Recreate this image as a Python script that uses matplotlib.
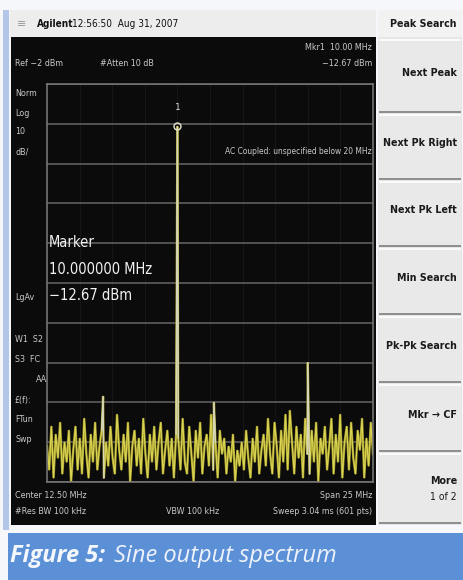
import numpy as np
import matplotlib
matplotlib.use("Agg")
import matplotlib.pyplot as plt
from matplotlib.patches import Rectangle

W, H = 464, 580

# Sweep settings
start_mhz = 0.0
stop_mhz = 25.0
ref_dbm = -2.0
db_per_div = 10.0
n_div = 10

# Noise floor readings across the sweep (dBm)
noise_dbm = [
    -93, -99, -88, -101, -90, -96, -87, -100, -92, -97,
    -89, -102, -94, -88, -99, -91, -100, -86, -95, -101,
    -90, -97, -87, -99, -93, -89, -101, -92, -98, -88,
    -96, -100, -85, -94, -99, -90, -97, -87, -102, -93,
    -89, -98, -91, -100, -86, -95, -101, -90, -97, -88,
    -99, -92, -87, -100, -94, -89, -98, -91, -101, -90,
    -91, -99, -86, -97, -100, -88, -95, -102, -89, -96,
    -87, -100, -93, -90, -98, -85, -99, -92, -101, -89,
    -95, -91, -100, -93, -97, -90, -102, -94, -98, -92,
    -99, -89, -96, -101, -91, -97, -88, -100, -94, -90,
    -98, -86, -95, -100, -87, -93, -101, -89, -97, -85,
    -99, -84, -92, -100, -88, -96, -90, -101, -86, -95,
    -100, -89, -97, -87, -102, -91, -95, -88, -99, -93,
    -86, -100, -90, -97, -85, -101, -92, -88, -99, -87,
    -96, -100, -89, -94, -86, -101, -91, -98, -87, -95,
]

# Discrete signals: carrier, harmonic and spurs
spur_mhz = [4.3, 10.0, 12.8, 20.0]
spur_dbm = [-80.5, -12.67, -82.0, -72.0]

marker_mhz = 10.0
marker_dbm = -12.67

softkeys = ["Next Peak", "Next Pk Right", "Next Pk Left", "Min Search",
            "Pk-Pk Search", "Mkr \u2192 CF"]

NARROW = ["Liberation Sans Narrow", "DejaVu Sans"]
SCREEN_FONT = dict(family=NARROW, fontstretch="condensed", color="#c9c9c9")
KEY_FONT = dict(family=NARROW, fontstretch="condensed", fontweight="bold",
                fontsize=7.7, color="#1a1a1a")


def fx(x):
    return x / W


def fy(y):
    return 1 - y / H


def box(fig, x0, y0, x1, y1, **kw):
    kw.setdefault("zorder", -5)
    fig.add_artist(Rectangle((fx(x0), fy(y1)), (x1 - x0) / W, (y1 - y0) / H,
                             transform=fig.transFigure, **kw))


def txt(fig, x, y, s, **kw):
    kw.setdefault("va", "center")
    kw.setdefault("zorder", 10)
    fig.text(fx(x), fy(y), s, **kw)


fig = plt.figure(figsize=(W / 100, H / 100), dpi=100)
fig.patch.set_facecolor("#f6f7fa")

# Frame pieces
box(fig, 3, 10, 9, 530, facecolor="#b4c6e8", edgecolor="none")
box(fig, 10, 10, 376, 37, facecolor="#ededed", edgecolor="none")
box(fig, 11, 37, 376, 525, facecolor="#0b0b0c", edgecolor="none")
box(fig, 8, 533, 464, 580, facecolor="#5b8fd6", edgecolor="none")

# Title bar
txt(fig, 22, 24, "\u2261", color="#9a9a9a", fontsize=8, ha="center")
txt(fig, 37, 24, "Agilent", family=NARROW, fontstretch="condensed",
    fontweight="bold", fontsize=7.2, color="#111111")
txt(fig, 72, 24, "12:56:50  Aug 31, 2007", family=NARROW,
    fontstretch="condensed", fontsize=7.2, color="#111111")

# Softkey panel
box(fig, 378, 10, 462, 525, facecolor="#e6e6e6", edgecolor="none")
box(fig, 378, 10, 462, 37, facecolor="#f2f2f2", edgecolor="none")
txt(fig, 457, 24, "Peak Search", ha="right", **KEY_FONT)
edges = [38, 113, 180, 247, 315, 383, 452, 524]
for i in range(len(edges) - 1):
    y0, y1 = edges[i], edges[i + 1]
    box(fig, 379, y0 + 1, 461, y1 - 1, facecolor="#e9e9e9",
        edgecolor="none", zorder=-4)
    box(fig, 379, y1 - 2, 461, y1, facecolor="#8f8f8f", edgecolor="none",
        zorder=-3)
    box(fig, 379, y0 + 1, 461, y0 + 3, facecolor="#fafafa", edgecolor="none",
        zorder=-3)
for i, label in enumerate(softkeys):
    yc = (edges[i] + edges[i + 1]) / 2 - 3
    txt(fig, 457, yc, label, ha="right", **KEY_FONT)
txt(fig, 457, 481, "More", ha="right", **KEY_FONT)
txt(fig, 457, 497, "1 of 2", ha="right", family=NARROW,
    fontstretch="condensed", fontsize=7.5, color="#1a1a1a")

# Graticule
ax = fig.add_axes([fx(47), fy(482), (373 - 47) / W, (482 - 84) / H])
ax.set_zorder(2)
ax.set_facecolor("#0b0b0c")
bottom_dbm = ref_dbm - n_div * db_per_div
ax.set_xlim(start_mhz, stop_mhz)
ax.set_ylim(bottom_dbm, ref_dbm)
ax.set_yticks(np.arange(bottom_dbm, ref_dbm + 0.1, db_per_div))
ax.set_xticks(np.linspace(start_mhz, stop_mhz, n_div + 1))
ax.tick_params(length=0, labelleft=False, labelbottom=False)
ax.grid(axis="y", color="#5e5e5e", lw=1.2)
ax.grid(axis="x", color="#161616", lw=0.8)
for sp in ax.spines.values():
    sp.set_color("#7a7a7a")
    sp.set_linewidth(1.1)

freqs = np.linspace(start_mhz, stop_mhz, len(noise_dbm))
all_f = np.concatenate([freqs, spur_mhz])
all_l = np.concatenate([noise_dbm, spur_dbm])
order = np.argsort(all_f, kind="stable")
all_f, all_l = all_f[order], all_l[order]

ax.plot(all_f, all_l, color="#9c9426", lw=1.7, solid_joinstyle="miter")
ax.plot(all_f, all_l, color="#e2dc5a", lw=0.8, alpha=0.9)

# Pale overlay on the discrete lines
for f in spur_mhz:
    k = int(np.where(all_f == f)[0][0])
    ax.plot(all_f[k - 1:k + 2], all_l[k - 1:k + 2], color="#d6d6bc", lw=1.0)

# Marker 1
ax.plot([marker_mhz], [marker_dbm], "o", mfc="none", mec="#e6e6d0",
        mew=1.0, ms=5)
ax.text(marker_mhz, marker_dbm + 4.7, "1", color="#d8d8d8", fontsize=6.5,
        ha="center", va="center", family=NARROW)

# Screen annotations
fs = 6.4
txt(fig, 372, 47, "Mkr1  10.00 MHz", ha="right", fontsize=fs, **SCREEN_FONT)
txt(fig, 15, 63, "Ref \u22122 dBm", fontsize=fs, **SCREEN_FONT)
txt(fig, 100, 63, "#Atten 10 dB", fontsize=fs, **SCREEN_FONT)
txt(fig, 372, 63, "\u221212.67 dBm", ha="right", fontsize=fs, **SCREEN_FONT)
for y, s in [(93, "Norm"), (113, "Log"), (132, "10"), (152, "dB/"),
             (298, "LgAv"), (340, "W1  S2"), (360, "S3  FC"),
             (400, "\u00a3(f):"), (420, "FTun"), (440, "Swp")]:
    txt(fig, 15, y, s, fontsize=fs, **SCREEN_FONT)
txt(fig, 36, 380, "AA", fontsize=fs, **SCREEN_FONT)
txt(fig, 372, 151, "AC Coupled: unspecified below 20 MHz", ha="right",
    fontsize=6.0, **SCREEN_FONT)

for y, s in [(242, "Marker"), (269, "10.000000 MHz"),
             (295, "\u221212.67 dBm")]:
    txt(fig, 49, y, s, fontsize=10.5, family=NARROW,
        fontstretch="condensed", color="#f2f2f2")

txt(fig, 15, 495, "Center 12.50 MHz", fontsize=fs, **SCREEN_FONT)
txt(fig, 372, 495, "Span 25 MHz", ha="right", fontsize=fs, **SCREEN_FONT)
txt(fig, 15, 512, "#Res BW 100 kHz", fontsize=fs, **SCREEN_FONT)
txt(fig, 166, 512, "VBW 100 kHz", fontsize=fs, **SCREEN_FONT)
txt(fig, 372, 512, "Sweep 3.04 ms (601 pts)", ha="right", fontsize=fs,
    **SCREEN_FONT)

# Caption
txt(fig, 10, 556, "Figure 5:", family=["Open Sans", "DejaVu Sans"],
    fontweight="bold", style="italic", fontsize=17, color="#f4f7fc")
txt(fig, 114, 556, "Sine output spectrum",
    family=["Open Sans", "DejaVu Sans"], style="italic", fontsize=17,
    color="#eef3fb")

fig.savefig("out.png", dpi=100, facecolor=fig.get_facecolor())
